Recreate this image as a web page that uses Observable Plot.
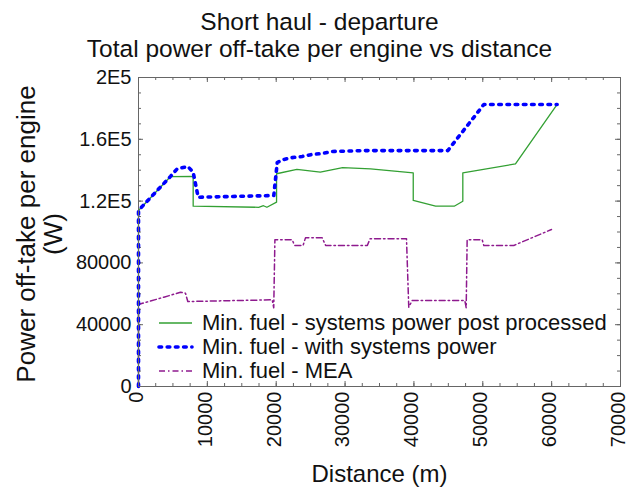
<!DOCTYPE html>
<html>
<head>
<meta charset="utf-8">
<script src="https://cdn.jsdelivr.net/npm/d3@7"></script>
<script src="https://cdn.jsdelivr.net/npm/@observablehq/plot@0.6"></script>
<style>
  html, body { margin: 0; padding: 0; background: #fff; }
  #wrap { position: relative; width: 629px; height: 491px; font-family: "Liberation Sans", Arial, sans-serif; }
  #legend { position: absolute; left: 156px; top: 311px; font-size: 22px; color: #111; line-height: 24px; }
  #legend .row { display: flex; align-items: center; height: 24px; white-space: nowrap; }
  #legend svg { width: 46px; height: 24px; flex: none; }
</style>
</head>
<body>
<div id="wrap"></div>
<script>
// ---- data ----
const titleLines = ["Short haul - departure", "Total power off-take per engine vs distance"];
const xLabel = "Distance (m)";
const yLabel = "Power off-take per engine\n(W)";
const seriesNames = [
  "Min. fuel - systems power post processed",
  "Min. fuel - with systems power",
  "Min. fuel - MEA"
];

const postX = [0, 0, 4650, 7940, 7940, 17450, 18150, 18650, 20050, 20050, 23000, 26400, 29650, 33700, 39900, 39900, 43150, 45850, 47100, 47100, 54750, 60700];
const postY = [0, 113900, 135900, 136000, 116700, 116000, 117000, 116000, 119300, 137700, 140500, 138700, 141700, 140900, 138300, 120400, 116700, 116700, 119900, 138300, 144100, 181900];

const sysX = [0, 0, 4650, 5620, 7160, 7940, 8670, 19650, 20150, 20870, 22070, 23770, 25220, 26670, 28130, 32720, 44920, 50150, 60800];
const sysY = [0, 114000, 136000, 140900, 142400, 138700, 122500, 123600, 145000, 146700, 148000, 148900, 150200, 150800, 152100, 152700, 152700, 182500, 182500];

const meaX = [0, 0, 3680, 6100, 6820, 7160, 19420, 19640, 19810, 22320, 22670, 23900, 24250, 26680, 27180, 33230, 33630, 38920, 39250, 39750, 47390, 47590, 47730, 49910, 50150, 54500, 57000, 59980];
const meaY = [0, 53100, 57800, 61000, 60400, 55000, 56100, 50900, 95000, 95000, 91300, 91300, 96200, 96200, 91300, 91300, 95600, 95600, 51300, 55700, 55700, 50900, 95000, 95000, 91300, 91300, 96000, 101600];

const xMajor = [0, 10000, 20000, 30000, 40000, 50000, 60000, 70000];
const xMinor = d3.range(0, 70001, 2500);
const yMajor = [0, 40000, 80000, 120000, 160000, 200000];
const yTickLabels = ["0", "40000", "80000", "1.2E5", "1.6E5", "2E5"];
const yMinor = d3.range(0, 200001, 10000);

const colors = ["#33a033", "#0000ff", "#8e1a8e"];

// ---- build ----
const toRows = (xs, ys) => xs.map((x, i) => ({x, y: ys[i]}));
const post = toRows(postX, postY);
const sys = toRows(sysX, sysY);
const mea = toRows(meaX, meaY);

const W = 629, H = 491, ML = 138, MR = 9, MT = 77, MB = 105;
const FW = W - ML - MR, FH = H - MT - MB;
const frameStroke = "#666";
const font = "Liberation Sans, Arial, sans-serif";
const minorLen = 3, majorLen = 5;

const chart = Plot.plot({
  width: W,
  height: H,
  marginLeft: ML,
  marginRight: MR,
  marginTop: MT,
  marginBottom: MB,
  style: {fontFamily: font, background: "#fff", color: "#111", overflow: "visible"},
  x: {domain: [0, 70000]},
  y: {domain: [0, 200000]},
  marks: [
    // inward ticks (bottom / top / left / right)
    Plot.tickX(xMinor, {x: d => d, insetTop: FH - minorLen, stroke: frameStroke}),
    Plot.tickX(xMajor, {x: d => d, insetTop: FH - majorLen, stroke: frameStroke}),
    Plot.tickX(xMinor, {x: d => d, insetBottom: FH - minorLen, stroke: frameStroke}),
    Plot.tickX(xMajor, {x: d => d, insetBottom: FH - majorLen, stroke: frameStroke}),
    Plot.tickY(yMinor, {y: d => d, insetRight: FW - minorLen, stroke: frameStroke}),
    Plot.tickY(yMajor, {y: d => d, insetRight: FW - majorLen, stroke: frameStroke}),
    Plot.tickY(yMinor, {y: d => d, insetLeft: FW - minorLen, stroke: frameStroke}),
    Plot.tickY(yMajor, {y: d => d, insetLeft: FW - majorLen, stroke: frameStroke}),
    // tick labels
    Plot.axisX(xMajor, {anchor: "bottom", tickSize: 0, tickPadding: 5, tickRotate: -90, dx: -2, fontSize: 20, fill: "#111", label: null, tickFormat: d => String(d)}),
    Plot.axisY(yMajor, {anchor: "left", tickSize: 0, tickPadding: 7, fontSize: 20, fill: "#111", label: null, tickFormat: d => yTickLabels[yMajor.indexOf(d)]}),
    // data lines
    Plot.line(mea, {x: "x", y: "y", stroke: colors[2], strokeWidth: 1.5, strokeDasharray: "6,3,1.5,3"}),
    Plot.line(post, {x: "x", y: "y", stroke: colors[0], strokeWidth: 1.3}),
    Plot.line(sys, {x: "x", y: "y", stroke: colors[1], strokeWidth: 3.6, strokeDasharray: "2.6,5.6", strokeLinecap: "round"}),
    Plot.frame({stroke: frameStroke, strokeWidth: 1}),
    // titles and axis labels
    Plot.text([titleLines[0]], {frameAnchor: "top", dx: -60, dy: -48, lineAnchor: "bottom", fontSize: 24.5, fill: "#111"}),
    Plot.text([titleLines[1]], {frameAnchor: "top", dx: -60, dy: -21, lineAnchor: "bottom", fontSize: 24.5, fill: "#111"}),
    Plot.text([xLabel], {frameAnchor: "bottom", dy: 95, lineAnchor: "bottom", fontSize: 24, fill: "#111"}),
    Plot.text([yLabel], {frameAnchor: "left", dx: -99, dy: 2, rotate: -90, textAnchor: "middle", lineAnchor: "middle", lineHeight: 1.05, fontSize: 26, fill: "#111"})
  ]
});

const wrap = document.getElementById("wrap");
wrap.appendChild(chart);

// legend
const legend = document.createElement("div");
legend.id = "legend";
const swatchStyles = [
  {w: 1.3, dash: null, cap: "butt"},
  {w: 3.6, dash: "2.6,5.6", cap: "round"},
  {w: 1.5, dash: "6,3,1.5,3", cap: "butt"}
];
seriesNames.forEach((name, i) => {
  const row = document.createElement("div");
  row.className = "row";
  const s = swatchStyles[i];
  row.innerHTML = `<svg viewBox="0 0 46 24"><line x1="3" x2="36" y1="12" y2="12" stroke="${colors[i]}" stroke-width="${s.w}" ${s.dash ? `stroke-dasharray="${s.dash}"` : ""} stroke-linecap="${s.cap}"/></svg><span>${name}</span>`;
  legend.appendChild(row);
});
wrap.appendChild(legend);
</script>
</body>
</html>
